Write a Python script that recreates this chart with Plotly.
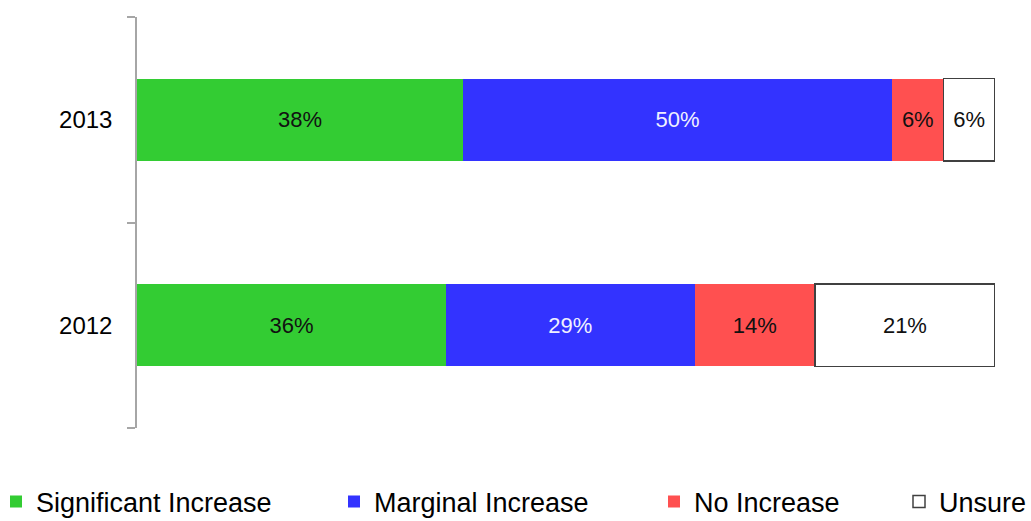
import plotly.graph_objects as go

years = ["2013", "2012"]
series_names = ["Significant Increase", "Marginal Increase", "No Increase", "Unsure"]
significant = [38, 36]
marginal = [50, 29]
no_increase = [6, 14]
unsure = [6, 21]

values = [significant, marginal, no_increase, unsure]
fills = ["#33CC33", "#3333FF", "#FF5050", "#FFFFFF"]
text_colors = ["#111111", "#F0F0FF", "#111111", "#111111"]
line_widths = [0, 0, 0, 1.5]
legend_ids = ["legend", "legend2", "legend3", "legend4"]
legend_x_px = [-4, 334, 654, 899]

W, H = 1031, 521
ML, MR, MT, MB = 137, 36, 17, 93
pw = W - ML - MR
ph = H - MT - MB

FONT = "Arial, Liberation Sans, sans-serif"

fig = go.Figure()
for name, vals, fc, tc, lw, lg in zip(series_names, values, fills, text_colors, line_widths, legend_ids):
    fig.add_trace(go.Bar(
        y=years, x=vals, name=name, orientation="h",
        marker=dict(color=fc, line=dict(color="#404040", width=lw)),
        texttemplate="%{x}%", textposition="inside", insidetextanchor="middle",
        textangle=0, constraintext="none",
        insidetextfont=dict(family=FONT, size=22, color=tc),
        legend=lg, hoverinfo="skip",
    ))

layout_legends = {}
for lg, xp in zip(legend_ids, legend_x_px):
    layout_legends[lg] = dict(
        x=(xp - ML) / pw, xanchor="left",
        y=(MT + ph - 502) / ph, yanchor="middle",
        orientation="h", bgcolor="rgba(0,0,0,0)",
        font=dict(family=FONT, size=27, color="#000000"),
        itemclick=False, itemdoubleclick=False,
    )

fig.update_layout(
    width=W, height=H,
    margin=dict(l=ML, r=MR, t=MT, b=MB, pad=0, autoexpand=False),
    paper_bgcolor="white", plot_bgcolor="white",
    barmode="stack", bargap=0.6,
    showlegend=True,
    font=dict(family=FONT, color="#000000"),
    xaxis=dict(range=[0, 100], visible=False, fixedrange=True),
    yaxis=dict(
        type="category", categoryorder="array", categoryarray=["2012", "2013"],
        range=[-0.5, 1.5],
        showline=True, linecolor="#A6A6A6", linewidth=1.5,
        ticks="outside", tickson="boundaries", ticklen=8, tickcolor="#A6A6A6", tickwidth=1.5,
        tickfont=dict(family=FONT, size=24, color="#000000"),
        ticklabelstandoff=18,
        showgrid=False, zeroline=False, fixedrange=True,
    ),
    **layout_legends,
)

fig.write_html("out.html")
